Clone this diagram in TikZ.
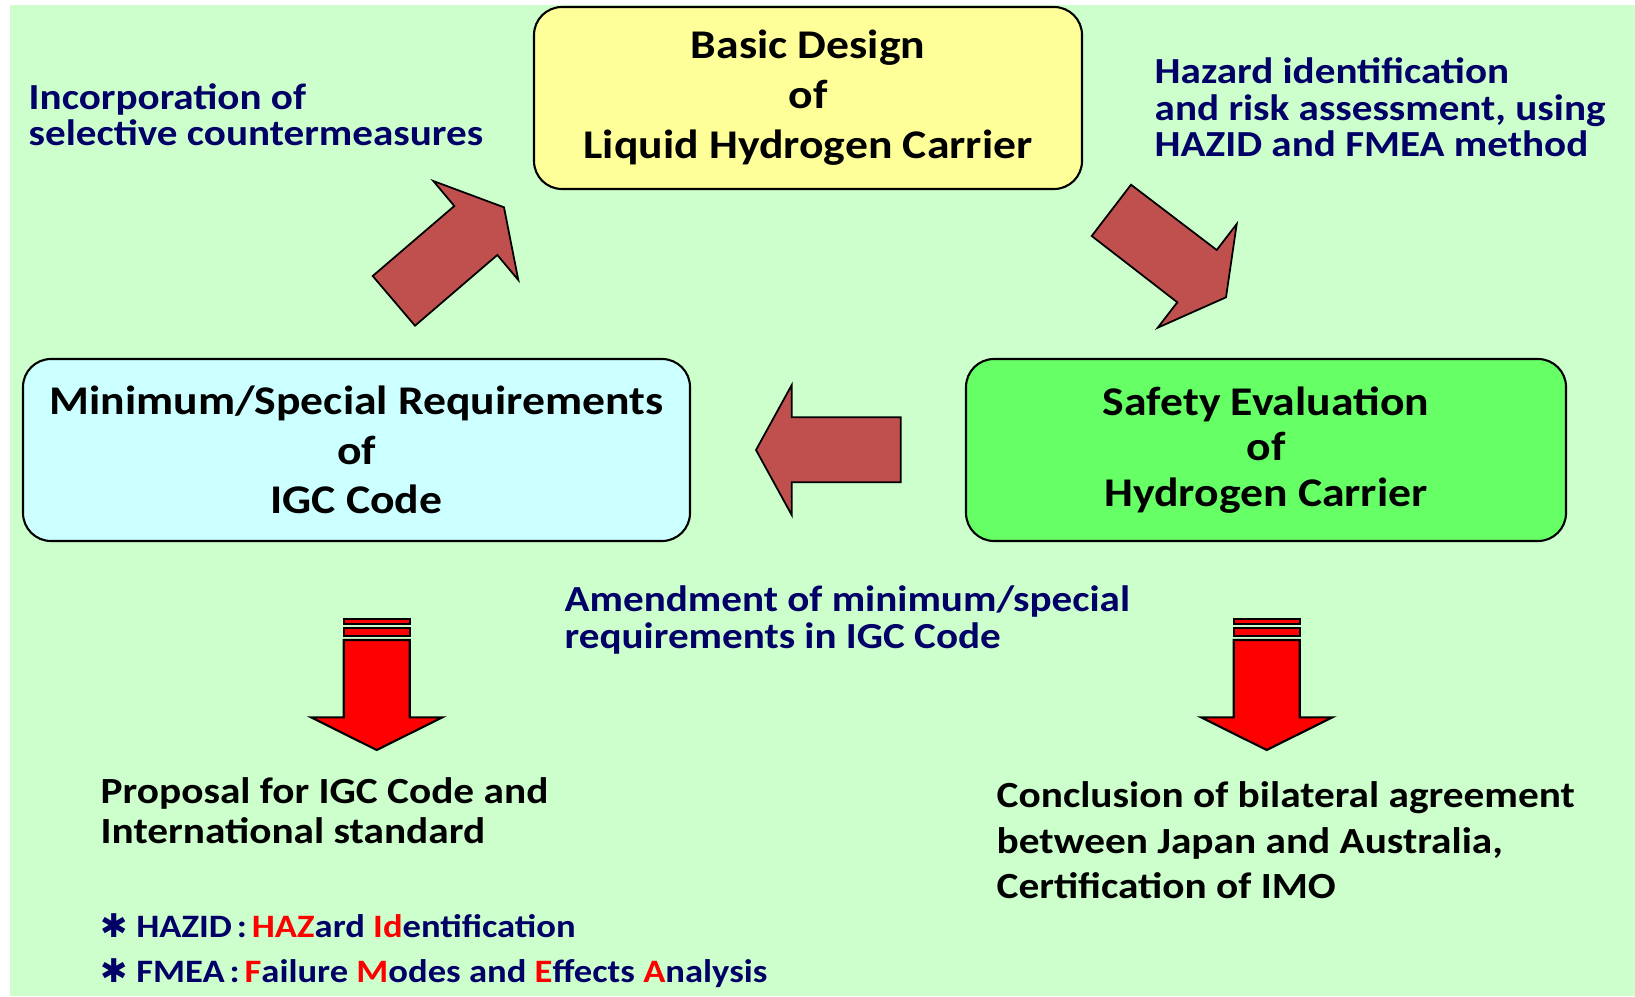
\documentclass[tikz,border=0pt]{standalone}
\usepackage{fontspec}
\setmainfont{Carlito}[FakeStretch=1.12]
\newfontfamily\symfont{DejaVu Sans}
\usepackage{tikz}
\usetikzlibrary{positioning}
\definecolor{hgruen}{HTML}{CCFFCC}
\definecolor{gelb}{HTML}{FFFF99}
\definecolor{hellblau}{HTML}{CCFFFF}
\definecolor{gruen}{HTML}{66FF66}
\definecolor{pfeilrot}{HTML}{C0504D}
\definecolor{navy}{HTML}{000066}
\tikzstyle{kasten} = [draw, line width=0.6pt, rounded corners=0.28cm, minimum height=1.82cm,
	align=center, font=\bfseries\fontsize{11.6}{14.2}\selectfont]
\tikzstyle{blau} = [inner sep=0, align=left, text=navy, font=\bfseries\fontsize{10.45}{10.4}\selectfont]
\tikzstyle{schwarz} = [inner sep=0, align=left, font=\bfseries\fontsize{10.5}{11.6}\selectfont]
\tikzstyle{blockpfeil} = [draw=black, fill=pfeilrot, line width=0.5pt]
\tikzstyle{rotpfeil} = [draw=black, fill=red, line width=0.6pt]
\newcommand{\rt}[1]{\textcolor{red}{#1}}

\begin{document}
\begin{tikzpicture}
		% Hintergrund
		\useasboundingbox (0,0) rectangle (16.35,-9.96);
		\fill[hgruen] (0.10,-0.05) rectangle (16.35,-9.96);
		
		% nodes
		\node[kasten, fill=gelb, minimum width=5.48cm] (basic) at (8.08,-0.98) {Basic Design\\of\\Liquid Hydrogen Carrier};	% oben
		\node[kasten, fill=hellblau, minimum width=6.67cm, font=\bfseries\fontsize{11.6}{14}\selectfont] (min) at (3.565,-4.50) {Minimum/Special Requirements\\of\\IGC Code};	% links
		\node[kasten, fill=gruen, minimum width=6.00cm, right of=min, node distance=9.095cm, font=\bfseries\fontsize{11.6}{13}\selectfont] (safety) {Safety Evaluation\\of\\Hydrogen Carrier};	% rechts
		\node[blau, anchor=west] (incorp) at (0.28,-1.147) {Incorporation of\\selective countermeasures};
		\node[blau, anchor=west] (hazard) at (11.54,-1.074) {Hazard identification\\and risk assessment, using\\HAZID and FMEA method};
		\node[blau, anchor=west] (amend) at (5.64,-6.20) {Amendment of minimum/special\\requirements in IGC Code};
		\node[schwarz, anchor=west] (proposal) at (1.00,-8.107) {Proposal for IGC Code and\\International standard};
		\node[schwarz, anchor=west, font=\bfseries\fontsize{10.5}{13}\selectfont] (concl) at (9.96,-8.404) {Conclusion of bilateral agreement\\between Japan and Australia,\\Certification of IMO};
		\node[blau, anchor=west, font=\bfseries\fontsize{9.3}{12.8}\selectfont] (fn) at (1.00,-9.505)
			{{\symfont ✱} HAZID\hspace{0.15em}:\hspace{0.15em}\rt{HAZ}ard \rt{Id}entification\\
			 {\symfont ✱} FMEA\hspace{0.15em}:\hspace{0.15em}\rt{F}ailure \rt{M}odes and \rt{E}ffects \rt{A}nalysis};
		
		% Blockpfeile
		\draw[blockpfeil] (3.727,-2.760) -- (4.150,-3.257) -- (4.973,-2.550) -- (5.183,-2.800)
			-- (5.040,-2.073) -- (4.333,-1.810) -- (4.543,-2.060) -- cycle;	% nach rechts oben
		\draw[blockpfeil] (10.917,-2.360) -- (11.310,-1.847) -- (12.167,-2.500) -- (12.367,-2.240)
			-- (12.260,-2.973) -- (11.577,-3.277) -- (11.773,-3.023) -- cycle;	% nach rechts unten
		\draw[blockpfeil] (7.560,-4.500) -- (7.917,-3.850) -- (7.917,-4.173) -- (9.007,-4.173)
			-- (9.007,-4.823) -- (7.917,-4.823) -- (7.917,-5.150) -- cycle;	% nach links
		
		% rote Pfeile nach unten
		\foreach \xa in {3.767, 12.667} {
			\draw[rotpfeil] (\xa-0.33,-6.193) rectangle (\xa+0.33,-6.243);
			\draw[rotpfeil] (\xa-0.33,-6.280) rectangle (\xa+0.33,-6.360);
			\draw[rotpfeil] (\xa-0.33,-6.400) -- (\xa+0.33,-6.400) -- (\xa+0.33,-7.173) -- (\xa+0.657,-7.173)
				-- (\xa,-7.500) -- (\xa-0.657,-7.173) -- (\xa-0.33,-7.173) -- cycle;
		}
		\end{tikzpicture}
\end{document}
